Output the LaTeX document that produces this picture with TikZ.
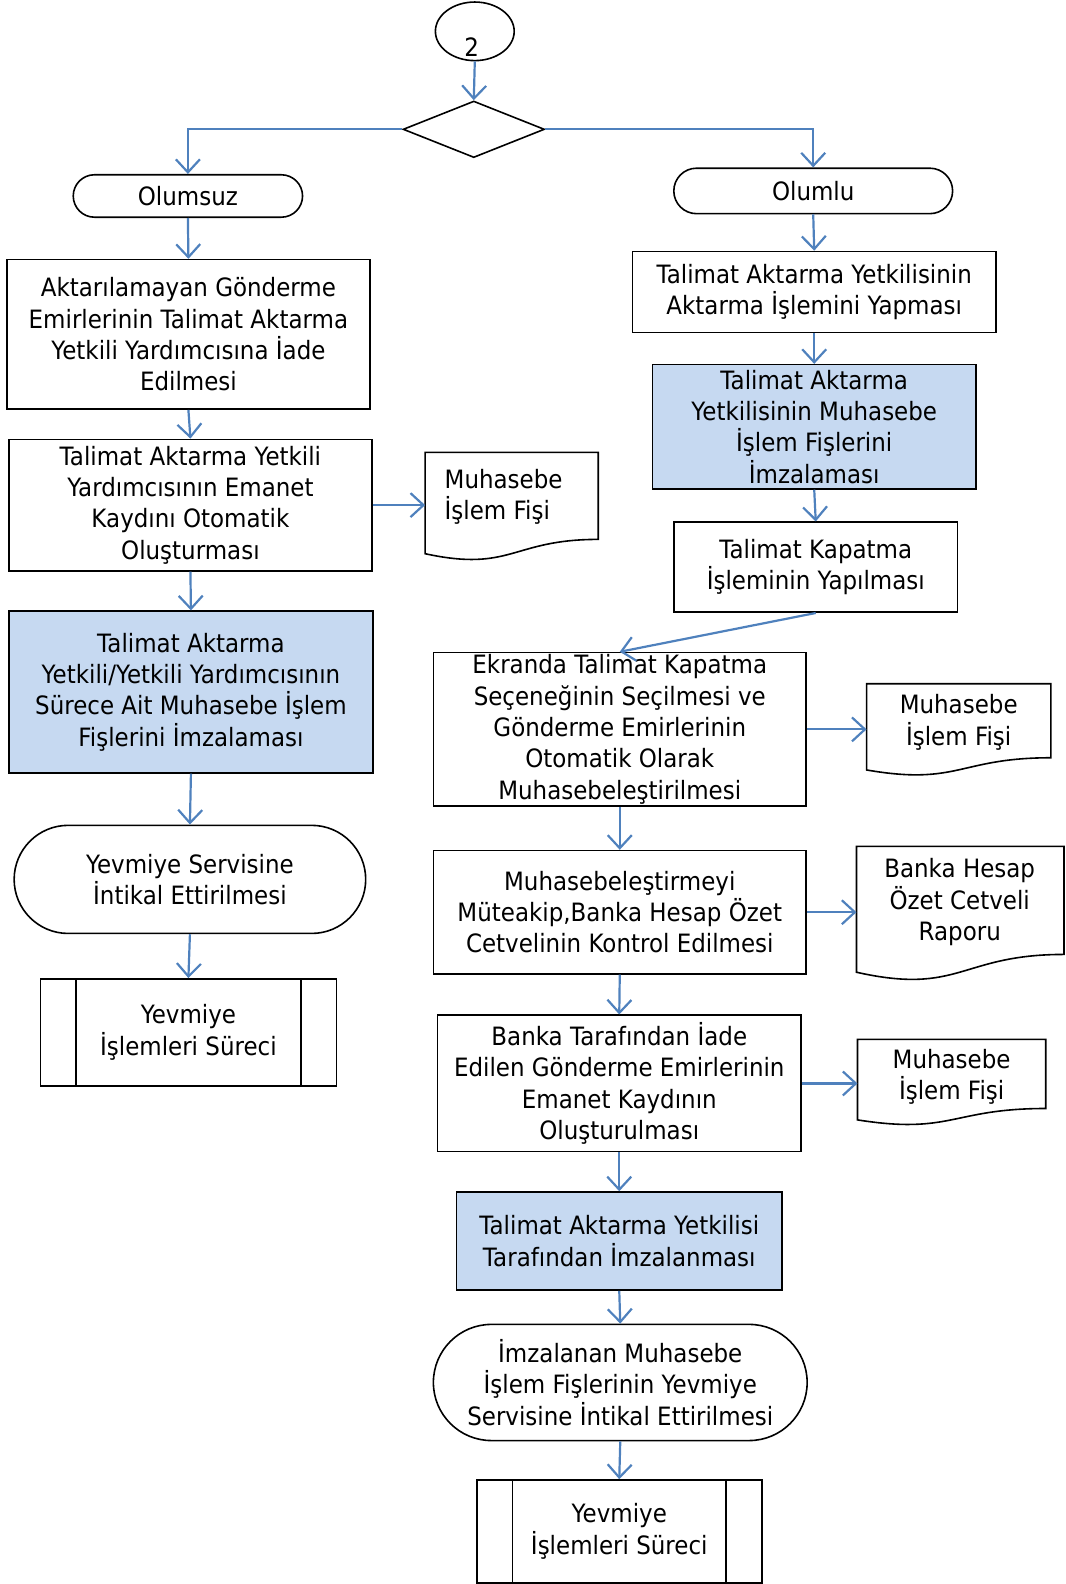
\documentclass[tikz,border=0pt]{standalone}
\usepackage{fontspec}
\setmainfont{DejaVu Sans}[FakeStretch=0.91]
\usetikzlibrary{arrows.meta,shapes.geometric,shapes.misc,calc}
\definecolor{fillblue}{HTML}{C6D9F1}
\definecolor{arrblue}{HTML}{4F81BD}
\newdimen\uu
\uu=1.0102bp
\newcommand\docoutline[1]{%
 \draw[line width=1.6bp] let \p1=(#1.north west), \p2=(#1.south east) in
 (\x1,\y1) -- (\x2,\y1) -- (\x2,{\y1+0.802*(\y2-\y1)})
 .. controls ({0.5*(\x1+\x2)},{\y1+0.802*(\y2-\y1)}) and ({0.5*(\x1+\x2)},{\y1+1.107*(\y2-\y1)}) .. (\x1,{\y1+0.934*(\y2-\y1)}) -- cycle;}
\newcommand\predeflines[2]{%
 \draw[line width=1.6bp] ($(#1.north west)+(#2,0)$) -- ($(#1.south west)+(#2,0)$);
 \draw[line width=1.6bp] ($(#1.north east)+(-#2,0)$) -- ($(#1.south east)+(-#2,0)$);}
\begin{document}
\begin{tikzpicture}[x=\uu,y=-\uu, font=\fontsize{25.25bp}{31.3bp}\selectfont,
 proc/.style={draw=black, line width=1.6bp, rectangle, align=center, inner sep=0pt},
 hl/.style={proc, fill=fillblue},
 term/.style={draw=black, line width=1.6bp, rounded rectangle, align=center, inner sep=0pt},
 docbox/.style={rectangle, inner sep=0pt},
 arr/.style={draw=arrblue, line width=2.2bp, -{Straight Barb[length=13bp,width=24bp]}},
 txt/.style={align=center, inner sep=0pt},
]
\useasboundingbox (0,0) rectangle (1054.25,1568);
% top
\node[draw, line width=1.6bp, ellipse, minimum width=78\uu, minimum height=58\uu, inner sep=0pt] (c2) at (470,31) {};
\node[txt] (c2t) at (467,47) {2};
\node[draw, line width=1.6bp, diamond, minimum width=140\uu, minimum height=56\uu, inner sep=0pt] (dia) at (469,128) {};
\node[term, minimum width=227\uu, minimum height=42\uu] (neg) at (186,194) {Olumsuz};
\node[term, minimum width=276\uu, minimum height=45\uu] (pos) at (805,189) {Olumlu};
% left column
\node[proc, minimum width=359\uu, minimum height=148\uu] (L1) at (186.5,331) {Aktarılamayan Gönderme\\Emirlerinin Talimat Aktarma\\Yetkili Yardımcısına İade\\Edilmesi};
\node[proc, minimum width=359\uu, minimum height=130\uu] (L2) at (188.5,500) {Talimat Aktarma Yetkili\\Yardımcısının Emanet\\Kaydını Otomatik\\Oluşturması};
\node[docbox, minimum width=171\uu, minimum height=107\uu] (D1) at (506.5,501.5) {};
\docoutline{D1}
\node[txt, align=left, anchor=west] (D1t) at (440,492) {Muhasebe\\İşlem Fişi};
\node[hl, minimum width=360\uu, minimum height=160\uu] (L3) at (189,685) {Talimat Aktarma\\Yetkili/Yetkili Yardımcısının\\Sürece Ait Muhasebe İşlem\\Fişlerini İmzalaması};
\node[term, minimum width=348\uu, minimum height=107\uu] (L4) at (188,870.5) {Yevmiye Servisine\\İntikal Ettirilmesi};
\node[proc, minimum width=293\uu, minimum height=106\uu] (L5) at (186.5,1022) {Yevmiye\\İşlemleri Süreci};
\predeflines{L5}{36}
% right column
\node[proc, minimum width=360\uu, minimum height=80\uu] (R1) at (806,289) {Talimat Aktarma Yetkilisinin\\Aktarma İşlemini Yapması};
\node[hl, minimum width=320\uu, minimum height=123\uu] (R2) at (806,422.5) {Talimat Aktarma\\Yetkilisinin Muhasebe\\İşlem Fişlerini\\İmzalaması};
\node[proc, minimum width=281\uu, minimum height=89\uu] (R3) at (807.5,561.5) {Talimat Kapatma\\İşleminin Yapılması};
\node[proc, minimum width=369\uu, minimum height=152\uu] (R4) at (613.5,722) {Ekranda Talimat Kapatma\\Seçeneğinin Seçilmesi ve\\Gönderme Emirlerinin\\Otomatik Olarak\\Muhasebeleştirilmesi};
\node[docbox, minimum width=182\uu, minimum height=91\uu] (D2) at (949,722.5) {};
\docoutline{D2}
\node[txt] (D2t) at (949,715) {Muhasebe\\İşlem Fişi};
\node[proc, minimum width=369\uu, minimum height=122\uu] (R5) at (613.5,903) {Muhasebeleştirmeyi\\Müteakip,Banka Hesap Özet\\Cetvelinin Kontrol Edilmesi};
\node[docbox, minimum width=205\uu, minimum height=133\uu] (D3) at (950.5,904.5) {};
\docoutline{D3}
\node[txt] (D3t) at (950,893) {Banka Hesap\\Özet Cetveli\\Raporu};
\node[proc, minimum width=360\uu, minimum height=135\uu] (R6) at (613,1072.5) {Banka Tarafından İade\\Edilen Gönderme Emirlerinin\\Emanet Kaydının\\Oluşturulması};
\node[docbox, minimum width=186\uu, minimum height=85\uu] (D4) at (942,1071.5) {};
\docoutline{D4}
\node[txt] (D4t) at (942,1066) {Muhasebe\\İşlem Fişi};
\node[hl, minimum width=322\uu, minimum height=97\uu] (R7) at (613,1228.5) {Talimat Aktarma Yetkilisi\\Tarafından İmzalanması};
\node[term, minimum width=370\uu, minimum height=115\uu] (R8) at (614,1368.5) {İmzalanan Muhasebe\\İşlem Fişlerinin Yevmiye\\Servisine İntikal Ettirilmesi};
\node[proc, minimum width=282\uu, minimum height=102\uu] (R9) at (613,1516) {Yevmiye\\İşlemleri Süreci};
\predeflines{R9}{36}
% connectors
\draw[arr] (c2.south) -- (dia.north);
\draw[arr] (dia.west) -| (neg.north);
\draw[arr] (dia.east) -| (pos.north);
\draw[arr] (neg.south) -- (L1.north);
\draw[arr] (L1.south) -- (L2.north);
\draw[arr] (L2.east) -- (L2.east -| D1.west);
\draw[arr] (L2.south) -- (L3.north);
\draw[arr] (L3.south) -- (L4.north);
\draw[arr] (L4.south) -- (L5.north);
\draw[arr] (pos.south) -- (R1.north);
\draw[arr] (R1.south) -- (R2.north);
\draw[arr] (R2.south) -- (R3.north);
\draw[arr] (R3.south) -- (R4.north);
\draw[arr] (R4.east) -- (R4.east -| D2.west);
\draw[arr] (R4.south) -- (R5.north);
\draw[arr] (R5.east) -- (R5.east -| D3.west);
\draw[arr] (R5.south) -- (R6.north);
\draw[arr] (R6.east) -- (R6.east -| D4.west);
\draw[arr] (R6.south) -- (R7.north);
\draw[arr] (R7.south) -- (R8.north);
\draw[arr] (R8.south) -- (R9.north);
\end{tikzpicture}
\end{document}
